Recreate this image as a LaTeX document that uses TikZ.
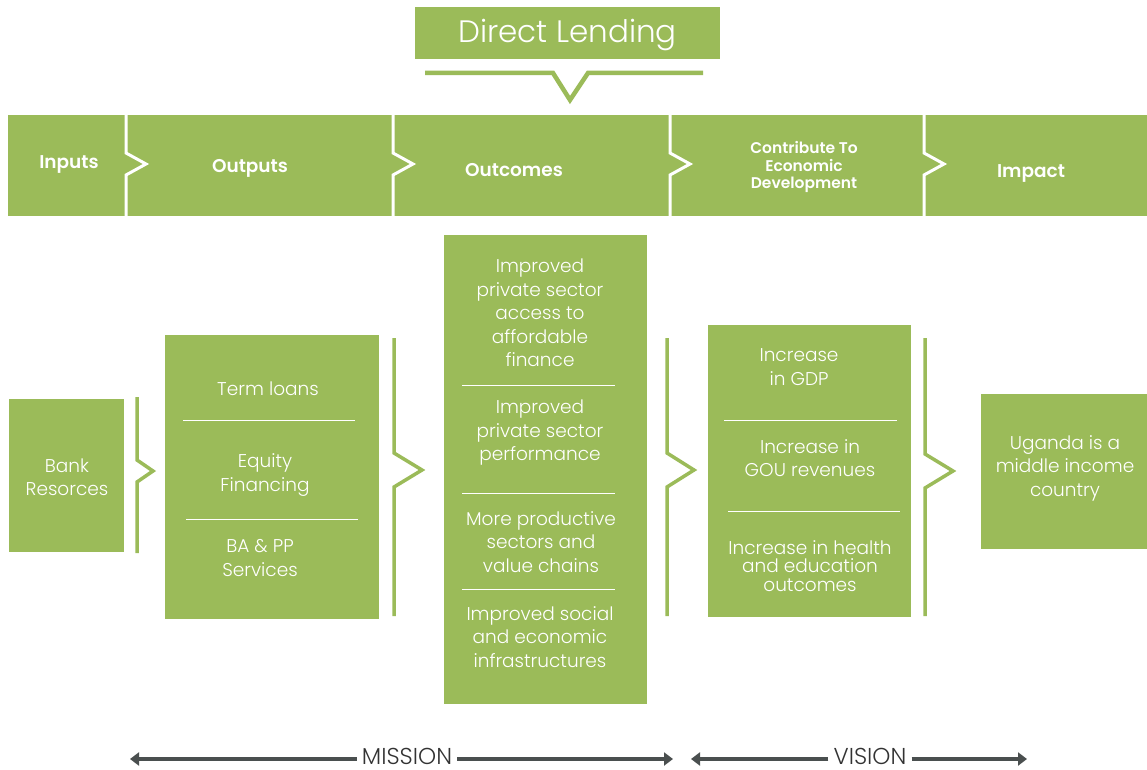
\documentclass[tikz,border=0pt]{standalone}
\usepackage{fontspec}
\setmainfont{Poppins}[UprightFont={* Light}, BoldFont={* SemiBold}]
\usetikzlibrary{arrows.meta}

\definecolor{lendgreen}{HTML}{9BBB59}
\definecolor{spangray}{HTML}{4A4F4F}

\tikzset{
  box/.style={fill=lendgreen, inner sep=0pt},
  txt/.style={text=white, align=center, font=\fontsize{18.5}{23.5}\selectfont},
  hdr/.style={text=white, align=center, font=\fontsize{18.5}{20}\selectfont\bfseries},
  bar/.style={draw=lendgreen, line width=3.5},
  notch/.style={draw=white, line width=3},
  sep/.style={draw=white, line width=1},
  span/.style={draw=spangray, line width=4.5, -{Triangle[length=9,width=13]}},
  lbl/.style={text=black!80, inner xsep=5pt, font=\fontsize{23}{23}\selectfont}
}

\begin{document}
\begin{tikzpicture}[x=1pt, y=-1pt]
\useasboundingbox (0,0) rectangle (1147,770);

% title and pointer
\node[box, minimum width=305, minimum height=52] (lend) at (567.5,33) {};
\node[text=white, font=\fontsize{31}{31}\selectfont] (lendtxt) at (567.5,35) {Direct Lending};
\draw[draw=lendgreen, line width=4.5] (425,73) -- (553,73) -- (570,100) -- (588,73) -- (703,73);

% header band
\node[box, minimum width=1139, minimum height=101] (band) at (577.5,165.5) {};
\foreach \s in {126,393,670,924}
  \draw[notch] (\s,114) -- (\s,153) -- (\s+20,164) -- (\s,175) -- (\s,217);
\node[hdr] (hin) at (69,164) {Inputs};
\node[hdr] (hout) at (250,168) {Outputs};
\node[hdr] (hoc) at (514,170) {Outcomes};
\node[hdr, font=\fontsize{15.5}{17.5}\selectfont\bfseries] (hec) at (804,167) {Contribute To\\Economic\\Development};
\node[hdr] (him) at (1031,173) {Impact};

% boxes
\node[box, minimum width=115, minimum height=153] (bank) at (66.5,475.5) {};
\node[box, minimum width=214, minimum height=284] (outbox) at (272,477) {};
\node[box, minimum width=203, minimum height=469] (ocbox) at (545.5,469.5) {};
\node[box, minimum width=203, minimum height=292] (ecbox) at (809.5,471) {};
\node[box, minimum width=166, minimum height=155] (impbox) at (1064,471.5) {};

% brackets between the boxes
\foreach \x/\t/\b/\m/\h/\d in {137/397/553/471/11/16, 394/338/616/470/17/28,
                              667/338/616/470/17/27, 925/338/616/471/17/28}
  \draw[bar] (\x,\t) -- (\x,\m-\h) -- (\x+\d,\m) -- (\x,\m+\h) -- (\x,\b);

% inputs
\node[txt] (res) at (67,477) {Bank\\Resorces};

% outputs
\node[txt] (tl) at (268,389) {Term loans};
\node[txt] (eq) at (265,475) {Equity\\Financing};
\node[txt] (ba) at (260,558) {BA \& PP\\Services};
\draw[sep] (183,420) -- (355,420);
\draw[sep] (186,519) -- (358,519);

% outcomes
\node[txt] (oc1) at (540,313) {Improved\\private sector\\access to\\affordable\\finance};
\node[txt] (oc2) at (540,433) {Improved\\private sector\\performance};
\node[txt] (oc3) at (541,542) {More productive\\sectors and\\value chains};
\node[txt] (oc4) at (540,637) {Improved social\\and economic\\infrastructures};
\draw[sep] (462,385) -- (615,385);
\draw[sep] (462,493) -- (615,493);
\draw[sep] (462,589) -- (615,589);

% economic development
\node[txt] (ec1) at (799,367) {Increase\\in GDP};
\node[txt] (ec2) at (810,458) {Increase in\\GOU revenues};
\node[txt, font=\fontsize{18.5}{18.5}\selectfont] (ec3) at (810,566) {Increase in health\\and education\\outcomes};
\draw[sep] (724,420) -- (897,420);
\draw[sep] (728,511) -- (900,511);

% impact
\node[txt] (imp) at (1065,468) {Uganda is a\\middle income\\country};

% mission and vision spans
\coordinate (misL) at (130,759);
\coordinate (misR) at (673,759);
\coordinate (visL) at (691,759);
\coordinate (visR) at (1027,759);
\node[lbl] (mis) at (407,756) {MISSION};
\node[lbl] (vis) at (870,756) {VISION};
\draw[span] (mis.west |- misL) -- (misL);
\draw[span] (mis.east |- misR) -- (misR);
\draw[span] (vis.west |- visL) -- (visL);
\draw[span] (vis.east |- visR) -- (visR);

\end{tikzpicture}
\end{document}
